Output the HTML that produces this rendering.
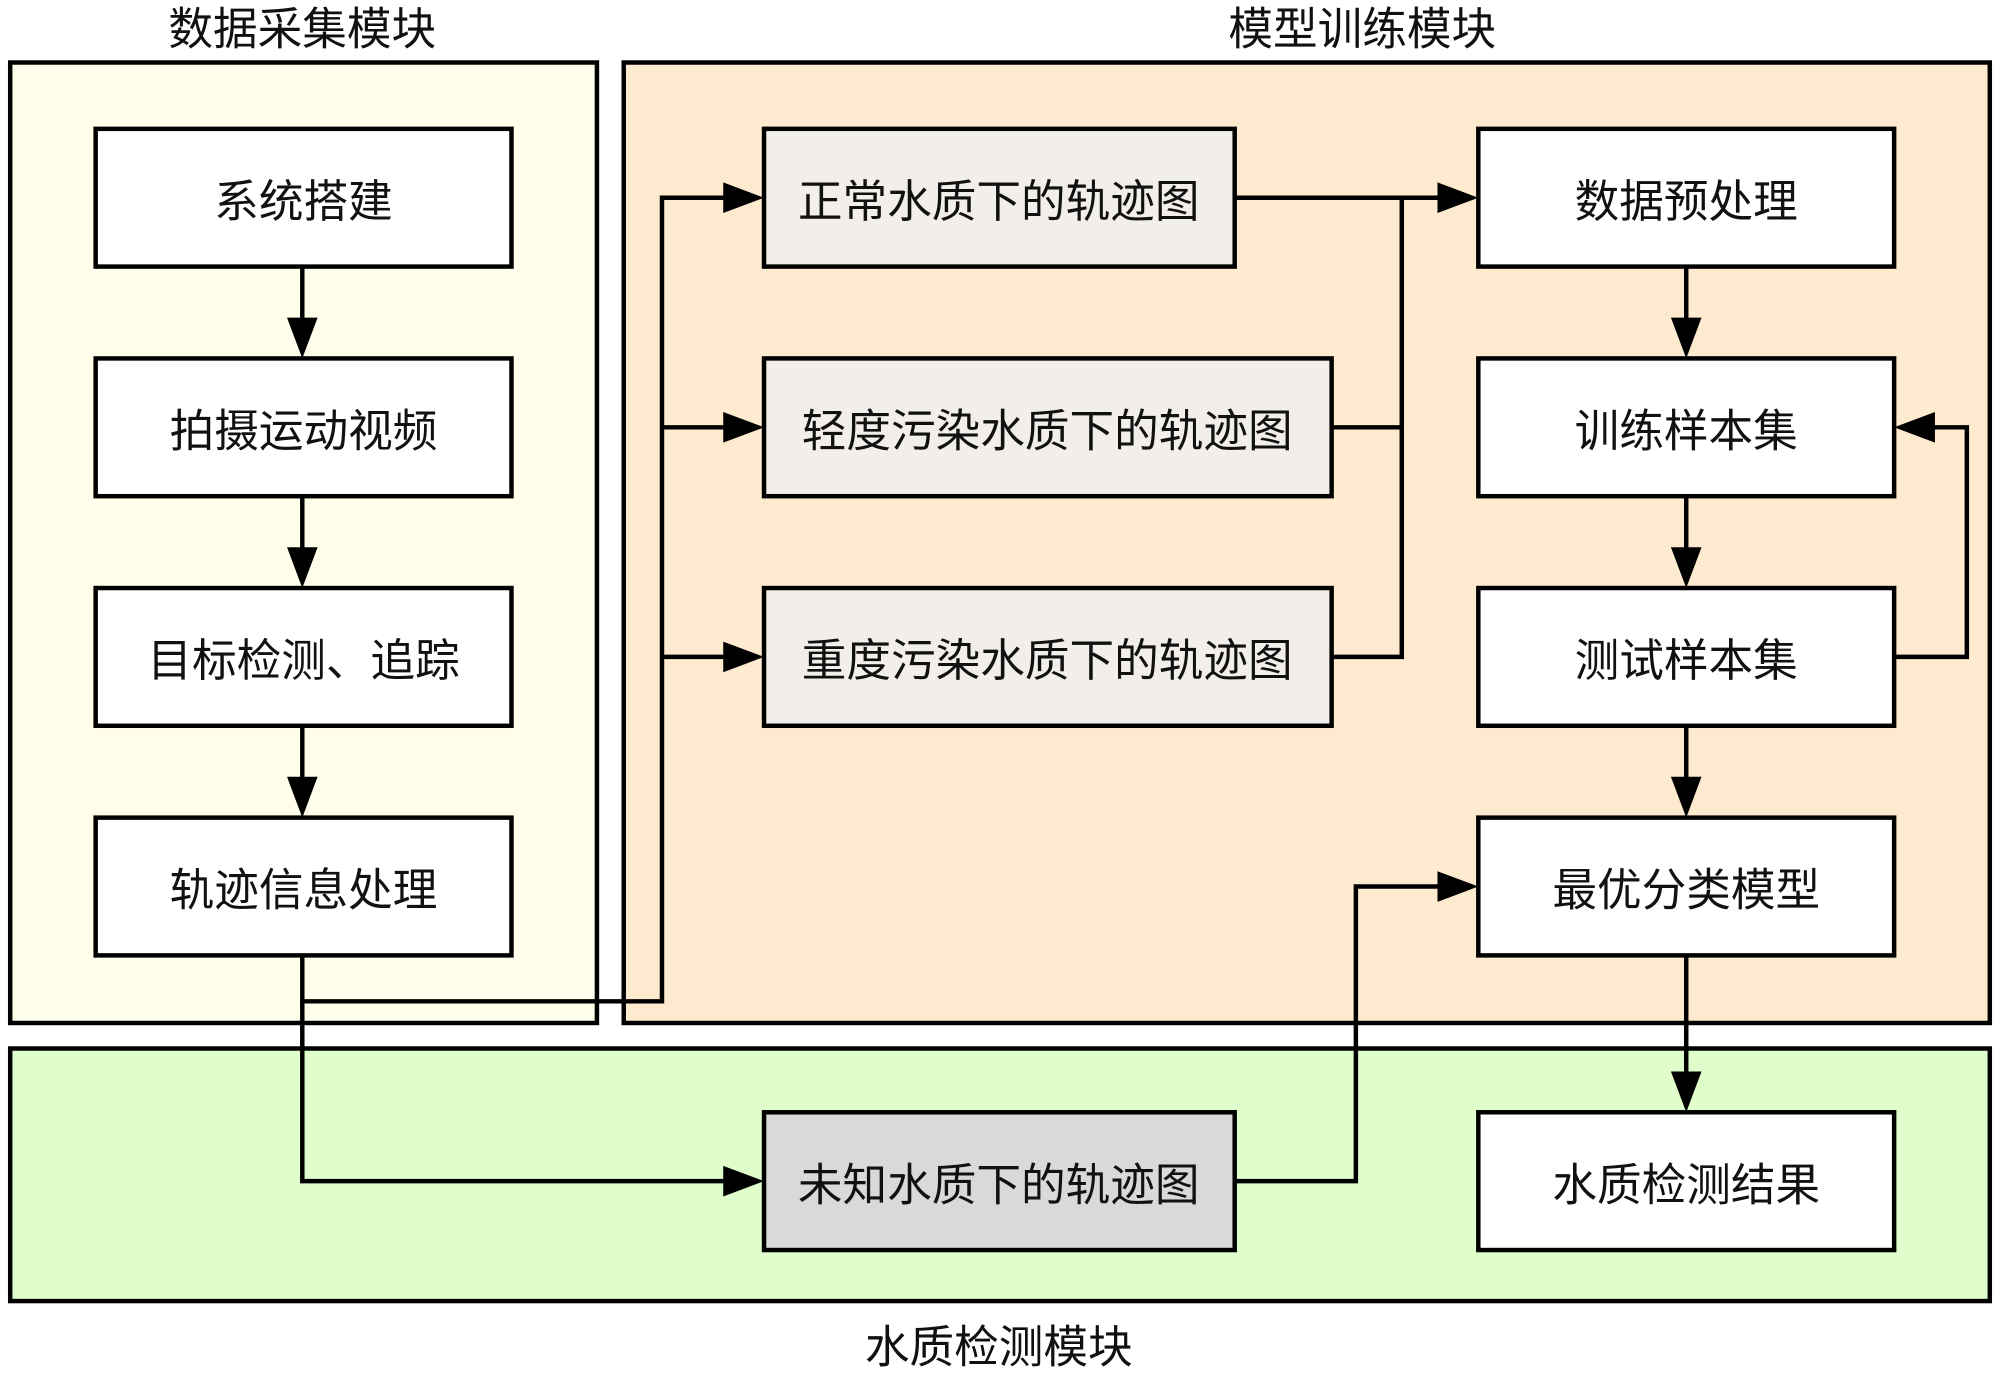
<!DOCTYPE html>
<html><head><meta charset="utf-8"><style>
html,body{margin:0;padding:0;background:#fff;}
svg{display:block;}
text{font-family:"Liberation Sans","Noto Sans CJK SC",sans-serif;fill:#111;}
</style></head><body>
<svg width="2000" height="1373" viewBox="0 0 1568 1076.4" preserveAspectRatio="none" xmlns="http://www.w3.org/2000/svg">
<g stroke="#000" stroke-width="3.5">
<rect x="8" y="49" width="460" height="753" fill="#FFFEEB"/>
<rect x="489" y="49" width="1071" height="753" fill="#FDEACF"/>
<rect x="8" y="822" width="1552" height="198" fill="#E0FECB"/>
</g>
<g font-size="35" text-anchor="middle">
<text x="237" y="35">数据采集模块</text>
<text x="1068" y="35">模型训练模块</text>
<text x="783" y="1068">水质检测模块</text>
</g>
<g fill="none" stroke="#000" stroke-width="3.5">
<path d="M237 209V250M237 389V430M237 569V610"/>
<path d="M237 749V785H519V155H568M519 335H568M519 515H568"/>
<path d="M237 785V926H568"/>
<path d="M968 155H1128M1044 335H1099M1044 515H1099V155"/>
<path d="M1322 209V250M1322 389V430M1322 569V610M1322 749V841"/>
<path d="M1485 515H1542V335H1516"/>
<path d="M968 926H1063V695H1128"/>
</g>
<g fill="#000">
<path d="M225 249L249 249L237 281Z"/><path d="M225 429L249 429L237 461Z"/><path d="M225 609L249 609L237 641Z"/>
<path d="M567 143L567 167L599 155Z"/><path d="M567 323L567 347L599 335Z"/><path d="M567 503L567 527L599 515Z"/>
<path d="M567 914L567 938L599 926Z"/>
<path d="M1127 143L1127 167L1159 155Z"/><path d="M1127 683L1127 707L1159 695Z"/>
<path d="M1310 249L1334 249L1322 281Z"/><path d="M1310 429L1334 429L1322 461Z"/><path d="M1310 609L1334 609L1322 641Z"/><path d="M1310 840L1334 840L1322 872Z"/>
<path d="M1517 323L1517 347L1485 335Z"/>
</g>
<g stroke="#000" stroke-width="3.5">
<rect x="75" y="101" width="326" height="108" fill="#fff"/>
<rect x="75" y="281" width="326" height="108" fill="#fff"/>
<rect x="75" y="461" width="326" height="108" fill="#fff"/>
<rect x="75" y="641" width="326" height="108" fill="#fff"/>
<rect x="599" y="101" width="369" height="108" fill="#F2EEEA"/>
<rect x="599" y="281" width="445" height="108" fill="#F2EEEA"/>
<rect x="599" y="461" width="445" height="108" fill="#F2EEEA"/>
<rect x="599" y="872" width="369" height="108" fill="#D9D9D9"/>
<rect x="1159" y="101" width="326" height="108" fill="#fff"/>
<rect x="1159" y="281" width="326" height="108" fill="#fff"/>
<rect x="1159" y="461" width="326" height="108" fill="#fff"/>
<rect x="1159" y="641" width="326" height="108" fill="#fff"/>
<rect x="1159" y="872" width="326" height="108" fill="#fff"/>
</g>
<g font-size="35" text-anchor="middle">
<text x="238" y="170">系统搭建</text>
<text x="238" y="350">拍摄运动视频</text>
<text x="238" y="530">目标检测、追踪</text>
<text x="238" y="710">轨迹信息处理</text>
<text x="783" y="170">正常水质下的轨迹图</text>
<text x="821" y="350">轻度污染水质下的轨迹图</text>
<text x="821" y="530">重度污染水质下的轨迹图</text>
<text x="783" y="941">未知水质下的轨迹图</text>
<text x="1322" y="170">数据预处理</text>
<text x="1322" y="350">训练样本集</text>
<text x="1322" y="530">测试样本集</text>
<text x="1322" y="710">最优分类模型</text>
<text x="1322" y="941">水质检测结果</text>
</g>
</svg>
</body></html>
